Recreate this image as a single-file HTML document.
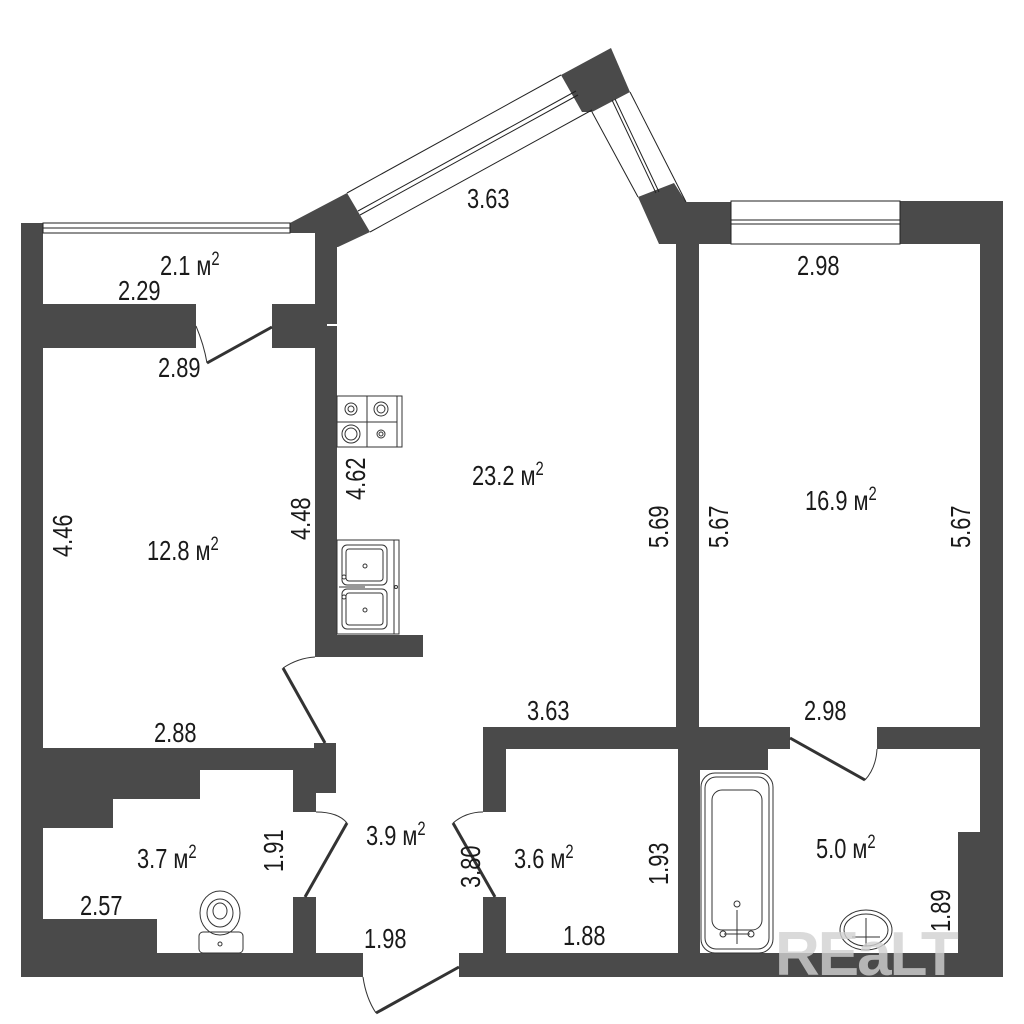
<!DOCTYPE html>
<html><head><meta charset="utf-8"><style>
html,body{margin:0;padding:0;background:#fff;width:1024px;height:1024px;overflow:hidden}
svg text{font-family:"Liberation Sans",sans-serif;fill:#1a1a1a}
</style></head><body>
<svg width="1024" height="1024" viewBox="0 0 1024 1024" xmlns="http://www.w3.org/2000/svg">
<g fill="#4a4a4a">
<rect x="21" y="223" width="22" height="754"/>
<rect x="21" y="304" width="175" height="44"/>
<rect x="272" y="304" width="65" height="44"/>
<rect x="315" y="225" width="22" height="432"/>
<rect x="315" y="635" width="108" height="22"/>
<polygon points="290,223 347,193 370,232 338,247 315,247 315,233 290,233"/>
<polygon points="561,75 611,48 630,92 592,112 582,112"/>
<polygon points="638,197 674,183 686,202 731,202 731,244 698,244 659,244"/>
<rect x="900" y="201" width="103" height="43"/>
<rect x="676" y="202" width="23" height="547"/>
<rect x="980" y="201" width="23" height="776"/>
<rect x="21" y="748" width="315" height="22"/>
<rect x="314" y="743" width="22" height="50"/>
<rect x="43" y="770" width="157" height="29"/>
<rect x="43" y="770" width="70" height="58"/>
<rect x="293" y="770" width="23" height="42"/>
<rect x="293" y="897" width="23" height="80"/>
<rect x="43" y="919" width="114" height="34"/>
<rect x="21" y="953" width="342" height="24"/>
<rect x="459" y="953" width="544" height="24"/>
<rect x="483" y="727" width="23" height="85"/>
<rect x="483" y="897" width="23" height="80"/>
<rect x="483" y="727" width="307" height="22"/>
<rect x="877" y="727" width="126" height="22"/>
<rect x="678" y="727" width="22" height="250"/>
<rect x="700" y="749" width="68" height="21"/>
<rect x="958" y="832" width="25" height="145"/>
</g>
<g fill="none" stroke="#222" stroke-width="1">
<rect x="43" y="223" width="247" height="10"/>
<line x1="43" y1="228" x2="290" y2="228"/>
<line x1="347" y1="193" x2="561" y2="75"/>
<line x1="370" y1="232" x2="592" y2="110"/>
<line x1="358" y1="211" x2="576" y2="91"/>
<line x1="360" y1="215" x2="578" y2="95"/>
<line x1="630" y1="92" x2="686" y2="202"/>
<line x1="592" y1="112" x2="638" y2="197"/>
<line x1="612" y1="100" x2="656" y2="193"/>
<line x1="615" y1="99" x2="659" y2="192"/>
<rect x="731" y="201" width="169" height="43"/>
<line x1="731" y1="220" x2="900" y2="220"/>
<line x1="731" y1="224" x2="900" y2="224"/>
</g>
<g fill="none" stroke="#333">
<line x1="272" y1="327" x2="207" y2="363" stroke-width="3"/>
<path d="M196,326 Q204,345 207,363" stroke-width="1"/>
<line x1="325" y1="743" x2="283" y2="668" stroke-width="3"/>
<path d="M283,668 Q298,658 315,657" stroke-width="1"/>
<line x1="305" y1="897" x2="347" y2="823" stroke-width="3"/>
<path d="M316,812 Q338,812 347,823" stroke-width="1"/>
<line x1="495" y1="897" x2="453" y2="823" stroke-width="3"/>
<path d="M453,823 Q466,812 483,812" stroke-width="1"/>
<line x1="459" y1="967" x2="376" y2="1013" stroke-width="3"/>
<path d="M363,977 Q366,998 376,1013" stroke-width="1"/>
<line x1="790" y1="738" x2="865" y2="780" stroke-width="3"/>
<path d="M877,749 Q876,768 865,780" stroke-width="1"/>
<line x1="327" y1="325" x2="337" y2="325" stroke="#fff" stroke-width="2"/>
</g>
<g fill="none" stroke="#333" stroke-width="1">
<rect x="337" y="396" width="65" height="51"/>
<line x1="367" y1="396" x2="367" y2="447"/>
<line x1="337" y1="422" x2="397" y2="422"/>
<line x1="397" y1="396" x2="397" y2="447"/>
<circle cx="351" cy="409" r="6"/><circle cx="351" cy="409" r="3"/>
<circle cx="381" cy="409" r="7"/><circle cx="381" cy="409" r="4"/>
<circle cx="351" cy="434" r="9"/><circle cx="351" cy="434" r="6"/>
<circle cx="381" cy="434" r="4"/><circle cx="381" cy="434" r="2"/>
<rect x="337" y="540" width="62" height="94"/>
<line x1="394" y1="540" x2="394" y2="634"/>
<rect x="342" y="545" width="45" height="40" rx="5"/>
<rect x="346" y="549" width="37" height="32" rx="3"/>
<rect x="342" y="589" width="45" height="40" rx="5"/>
<rect x="346" y="593" width="37" height="32" rx="3"/>
<circle cx="365" cy="566" r="2"/><circle cx="365" cy="610" r="2"/>
<line x1="339" y1="587" x2="365" y2="587"/>
<circle cx="344" cy="577" r="2"/><circle cx="344" cy="597" r="2"/>
<circle cx="396" cy="587" r="1.5"/>
<ellipse cx="220" cy="913" rx="20" ry="22"/>
<ellipse cx="220" cy="913" rx="13" ry="14"/>
<ellipse cx="220" cy="911" rx="7" ry="8"/>
<rect x="199" y="932" width="44" height="21" rx="4"/>
<circle cx="220" cy="944" r="2"/>
<rect x="701" y="773" width="72" height="180" rx="14"/>
<rect x="705" y="777" width="64" height="172" rx="11"/>
<rect x="712" y="790" width="50" height="140" rx="10"/>
<circle cx="737" cy="904" r="3"/>
<line x1="737" y1="910" x2="737" y2="944"/>
<line x1="724" y1="934" x2="750" y2="934"/>
<circle cx="723" cy="934" r="3"/><circle cx="751" cy="934" r="3"/>
<ellipse cx="866" cy="930" rx="26" ry="20"/>
<ellipse cx="866" cy="930" rx="22" ry="16"/>
<line x1="866" y1="918" x2="866" y2="946"/>
<line x1="852" y1="937" x2="880" y2="937"/>
</g>
<text x="775" y="975" font-size="62" font-weight="bold" style="fill:#d2d2d2;opacity:0.8" letter-spacing="-2">REaLT</text>
<g font-size="28">
<text transform="translate(160,275) scale(0.78,1)">2.1 м<tspan font-size="19" dy="-10">2</tspan></text>
<text transform="translate(118,300) scale(0.78,1)">2.29</text>
<text transform="translate(158,377) scale(0.78,1)">2.89</text>
<text transform="translate(147,560) scale(0.78,1)">12.8 м<tspan font-size="19" dy="-10">2</tspan></text>
<text transform="translate(154,742) scale(0.78,1)">2.88</text>
<text transform="translate(467,208) scale(0.78,1)">3.63</text>
<text transform="translate(472,485) scale(0.78,1)">23.2 м<tspan font-size="19" dy="-10">2</tspan></text>
<text transform="translate(527,720) scale(0.78,1)">3.63</text>
<text transform="translate(797,275) scale(0.78,1)">2.98</text>
<text transform="translate(805,510) scale(0.78,1)">16.9 м<tspan font-size="19" dy="-10">2</tspan></text>
<text transform="translate(804,720) scale(0.78,1)">2.98</text>
<text transform="translate(366,845) scale(0.78,1)">3.9 м<tspan font-size="19" dy="-10">2</tspan></text>
<text transform="translate(137,868) scale(0.78,1)">3.7 м<tspan font-size="19" dy="-10">2</tspan></text>
<text transform="translate(80,915) scale(0.78,1)">2.57</text>
<text transform="translate(364,948) scale(0.78,1)">1.98</text>
<text transform="translate(514,868) scale(0.78,1)">3.6 м<tspan font-size="19" dy="-10">2</tspan></text>
<text transform="translate(563,945) scale(0.78,1)">1.88</text>
<text transform="translate(816,858) scale(0.78,1)">5.0 м<tspan font-size="19" dy="-10">2</tspan></text>
<text transform="translate(72,557) rotate(-90) scale(0.78,1)">4.46</text>
<text transform="translate(310,540) rotate(-90) scale(0.78,1)">4.48</text>
<text transform="translate(365,500) rotate(-90) scale(0.78,1)">4.62</text>
<text transform="translate(668,548) rotate(-90) scale(0.78,1)">5.69</text>
<text transform="translate(728,548) rotate(-90) scale(0.78,1)">5.67</text>
<text transform="translate(970,548) rotate(-90) scale(0.78,1)">5.67</text>
<text transform="translate(283,872) rotate(-90) scale(0.78,1)">1.91</text>
<text transform="translate(668,885) rotate(-90) scale(0.78,1)">1.93</text>
<text transform="translate(950,932) rotate(-90) scale(0.78,1)">1.89</text>
<text transform="translate(480,888) rotate(-90) scale(0.78,1)">3.80</text>
</g>
</svg>
</body></html>
